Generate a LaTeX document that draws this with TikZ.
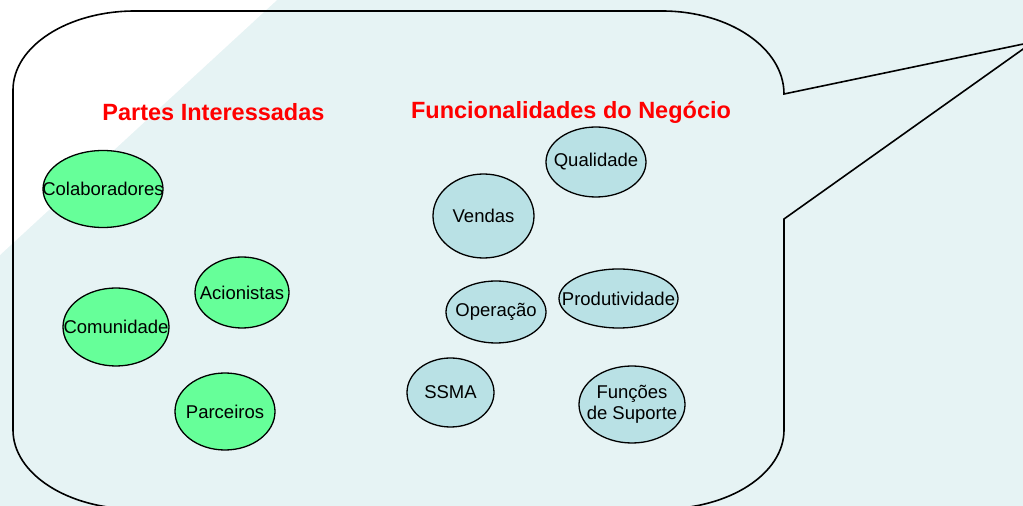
\documentclass[tikz,border=0pt]{standalone}
\usepackage{fontspec}
\setmainfont{Liberation Sans}
\usetikzlibrary{shapes.geometric}
\definecolor{bgblue}{HTML}{E6F3F4}
\definecolor{sgreen}{HTML}{66FF99}
\definecolor{fblue}{HTML}{B9E1E5}
\definecolor{tred}{HTML}{FF0000}
\newcommand{\zw}[1]{\makebox[0pt]{#1}}
\tikzset{
  oval/.style={ellipse, draw=black, line width=1.3pt, inner sep=0pt,
    font=\fontsize{18.5}{21}\selectfont, align=center},
  greenoval/.style={oval, fill=sgreen},
  blueoval/.style={oval, fill=fblue},
  title/.style={text=tred, font=\fontsize{23.5}{28}\selectfont\bfseries, inner sep=0pt},
}
\begin{document}
\begin{tikzpicture}[x=1pt,y=1pt]
\useasboundingbox (0,0) rectangle (1023,506);
\clip (0,0) rectangle (1023,506);
\fill[bgblue] (0,0) rectangle (1023,506);
\fill[white] (0,506) -- (277,506) -- (0,251) -- cycle;
% callout
\draw[line width=1.6pt, line join=miter]
  (135,495) -- (662,495)
  arc[start angle=90, end angle=0, x radius=122, y radius=83]
  -- (1033,464) -- (784,287) -- (784,76)
  arc[start angle=0, end angle=-90, x radius=122, y radius=79]
  -- (135,-3)
  arc[start angle=-90, end angle=-180, x radius=122, y radius=79]
  -- (13,416)
  arc[start angle=180, end angle=90, x radius=122, y radius=79]
  -- cycle;
% titles
\node[title] (t1) at (213.5,394) {Partes Interessadas};
\node[title] (t2) at (571,394) {Funcionalidades do Negócio};
% stakeholders
\node[greenoval, minimum width=120pt, minimum height=77pt] (colab) at (103,317) {\zw{Colaboradores}};
\node[greenoval, minimum width=106pt, minimum height=78pt] (comun) at (116,179) {\zw{Comunidade}};
\node[greenoval, minimum width=94pt, minimum height=71pt] (acion) at (242,213.5) {\zw{Acionistas}};
\node[greenoval, minimum width=100pt, minimum height=77pt] (parc) at (225,94.5) {\zw{Parceiros}};
% business functions
\node[blueoval, minimum width=100pt, minimum height=70pt] (qual) at (596,344) {\zw{Qualidade}};
\node[blueoval, minimum width=101pt, minimum height=84pt] (vend) at (483.5,290) {\zw{Vendas}};
\node[blueoval, minimum width=100pt, minimum height=62pt] (oper) at (496,194) {\zw{Operação}};
\node[blueoval, minimum width=119pt, minimum height=59pt] (prod) at (618.5,207.5) {\zw{Produtividade}};
\node[blueoval, minimum width=87pt, minimum height=69pt] (ssma) at (450.5,113.5) {\zw{SSMA}};
\node[blueoval, minimum width=106pt, minimum height=77pt] (func) at (632,101.5) {\zw{Funções}\\\zw{de Suporte}};
\end{tikzpicture}
\end{document}
